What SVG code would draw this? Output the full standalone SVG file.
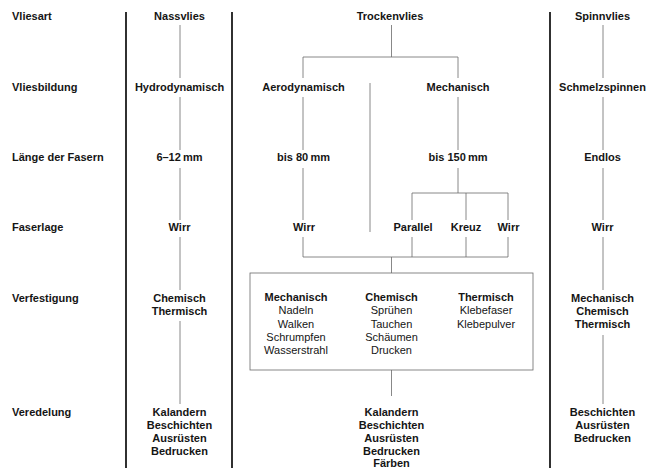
<svg xmlns="http://www.w3.org/2000/svg" width="654" height="468" viewBox="0 0 654 468">
<style>
text{font-family:"Liberation Sans",Arial,Helvetica,sans-serif;font-size:11px;fill:#151515}
.b{font-weight:bold}
.c{text-anchor:middle}
.div{stroke:#1a1a1a;stroke-width:1.8;fill:none}
.con{stroke:#6a6a6a;stroke-width:0.8;fill:none}
</style>
<rect width="654" height="468" fill="#ffffff"/>
<g id="dividers">
<line class="div" x1="126" y1="12" x2="126" y2="468"/>
<line class="div" x1="232" y1="12" x2="232" y2="468"/>
<line class="div" x1="550" y1="12" x2="550" y2="468"/>
</g>
<g id="row-labels" class="b">
<text x="12" y="20">Vliesart</text>
<text x="12" y="90.5">Vliesbildung</text>
<text x="12" y="161">Länge der Fasern</text>
<text x="12" y="231">Faserlage</text>
<text x="12" y="301.5">Verfestigung</text>
<text x="12" y="415.5">Veredelung</text>
</g>
<g id="connectors">
<path class="con" d="M180,25V78M180,97V150M180,168V220M180,237V290M180,321V404"/>
<path class="con" d="M391.5,25V57M303,78V57H458V78M303,97V150M303,168V220M303,237V257M370,83V232M458,97V150M458,168V193M412,220V193H508V220M466,193V220M412,237V257M466,237V257M508,237V257M303,257H508M391.5,257V273M391.5,370V396"/>
<path class="con" d="M603,25V78M603,97V150M603,168V220M603,237V290M603,335V404"/>
</g>
<g id="nassvlies" class="b c">
<text x="179.5" y="20">Nassvlies</text>
</g>
<g id="hydrodynamisch" class="b c"><text x="179.5" y="90.5">Hydrodynamisch</text></g>
<g id="laenge-nass" class="b c"><text x="179.5" y="161">6–12&#8201;mm</text></g>
<g id="wirr-nass" class="b c"><text x="179.5" y="231">Wirr</text></g>
<g id="verf-nass" class="b c"><text x="179.5" y="301.5">Chemisch</text><text x="179.5" y="315">Thermisch</text></g>
<g id="vered-nass" class="b c"><text x="179.5" y="415.5">Kalandern</text><text x="179.5" y="428.8">Beschichten</text><text x="179.5" y="442.1">Ausrüsten</text><text x="179.5" y="455.4">Bedrucken</text></g>
<g id="trockenvlies" class="b c"><text x="390" y="20">Trockenvlies</text></g>
<g id="aerodynamisch" class="b c"><text x="303.5" y="90.5">Aerodynamisch</text></g>
<g id="mechanisch" class="b c"><text x="458" y="90.5">Mechanisch</text></g>
<g id="bis80" class="b c"><text x="303.5" y="161">bis 80&#8201;mm</text></g>
<g id="bis150" class="b c"><text x="458" y="161">bis 150&#8201;mm</text></g>
<g id="wirr-aero" class="b c"><text x="304" y="231">Wirr</text></g>
<g id="parallel" class="b c"><text x="413" y="231">Parallel</text></g>
<g id="kreuz" class="b c"><text x="466" y="231">Kreuz</text></g>
<g id="wirr-mech" class="b c"><text x="508.5" y="231">Wirr</text></g>
<g id="verf-trocken">
<rect class="con" x="250" y="273" width="283" height="97"/>
<g class="c">
<text class="b" x="296" y="301">Mechanisch</text>
<text x="296" y="314.3">Nadeln</text>
<text x="296" y="327.6">Walken</text>
<text x="296" y="340.9">Schrumpfen</text>
<text x="296" y="354.2">Wasserstrahl</text>
<text class="b" x="391.5" y="301">Chemisch</text>
<text x="391.5" y="314.3">Sprühen</text>
<text x="391.5" y="327.6">Tauchen</text>
<text x="391.5" y="340.9">Schäumen</text>
<text x="391.5" y="354.2">Drucken</text>
<text class="b" x="486" y="301">Thermisch</text>
<text x="486" y="314.3">Klebefaser</text>
<text x="486" y="327.6">Klebepulver</text>
</g>
</g>
<g id="vered-trocken" class="b c"><text x="391.5" y="415.5">Kalandern</text><text x="391.5" y="428.6">Beschichten</text><text x="391.5" y="441.7">Ausrüsten</text><text x="391.5" y="454.8">Bedrucken</text><text x="391.5" y="467">Färben</text></g>
<g id="spinnvlies" class="b c"><text x="602.5" y="20">Spinnvlies</text></g>
<g id="schmelzspinnen" class="b c"><text x="602.5" y="90.5">Schmelzspinnen</text></g>
<g id="endlos" class="b c"><text x="602.5" y="161">Endlos</text></g>
<g id="wirr-spinn" class="b c"><text x="602.5" y="231">Wirr</text></g>
<g id="verf-spinn" class="b c"><text x="602.5" y="301.5">Mechanisch</text><text x="602.5" y="315">Chemisch</text><text x="602.5" y="328.3">Thermisch</text></g>
<g id="vered-spinn" class="b c"><text x="602.5" y="415.5">Beschichten</text><text x="602.5" y="428.8">Ausrüsten</text><text x="602.5" y="442.1">Bedrucken</text></g>
</svg>
